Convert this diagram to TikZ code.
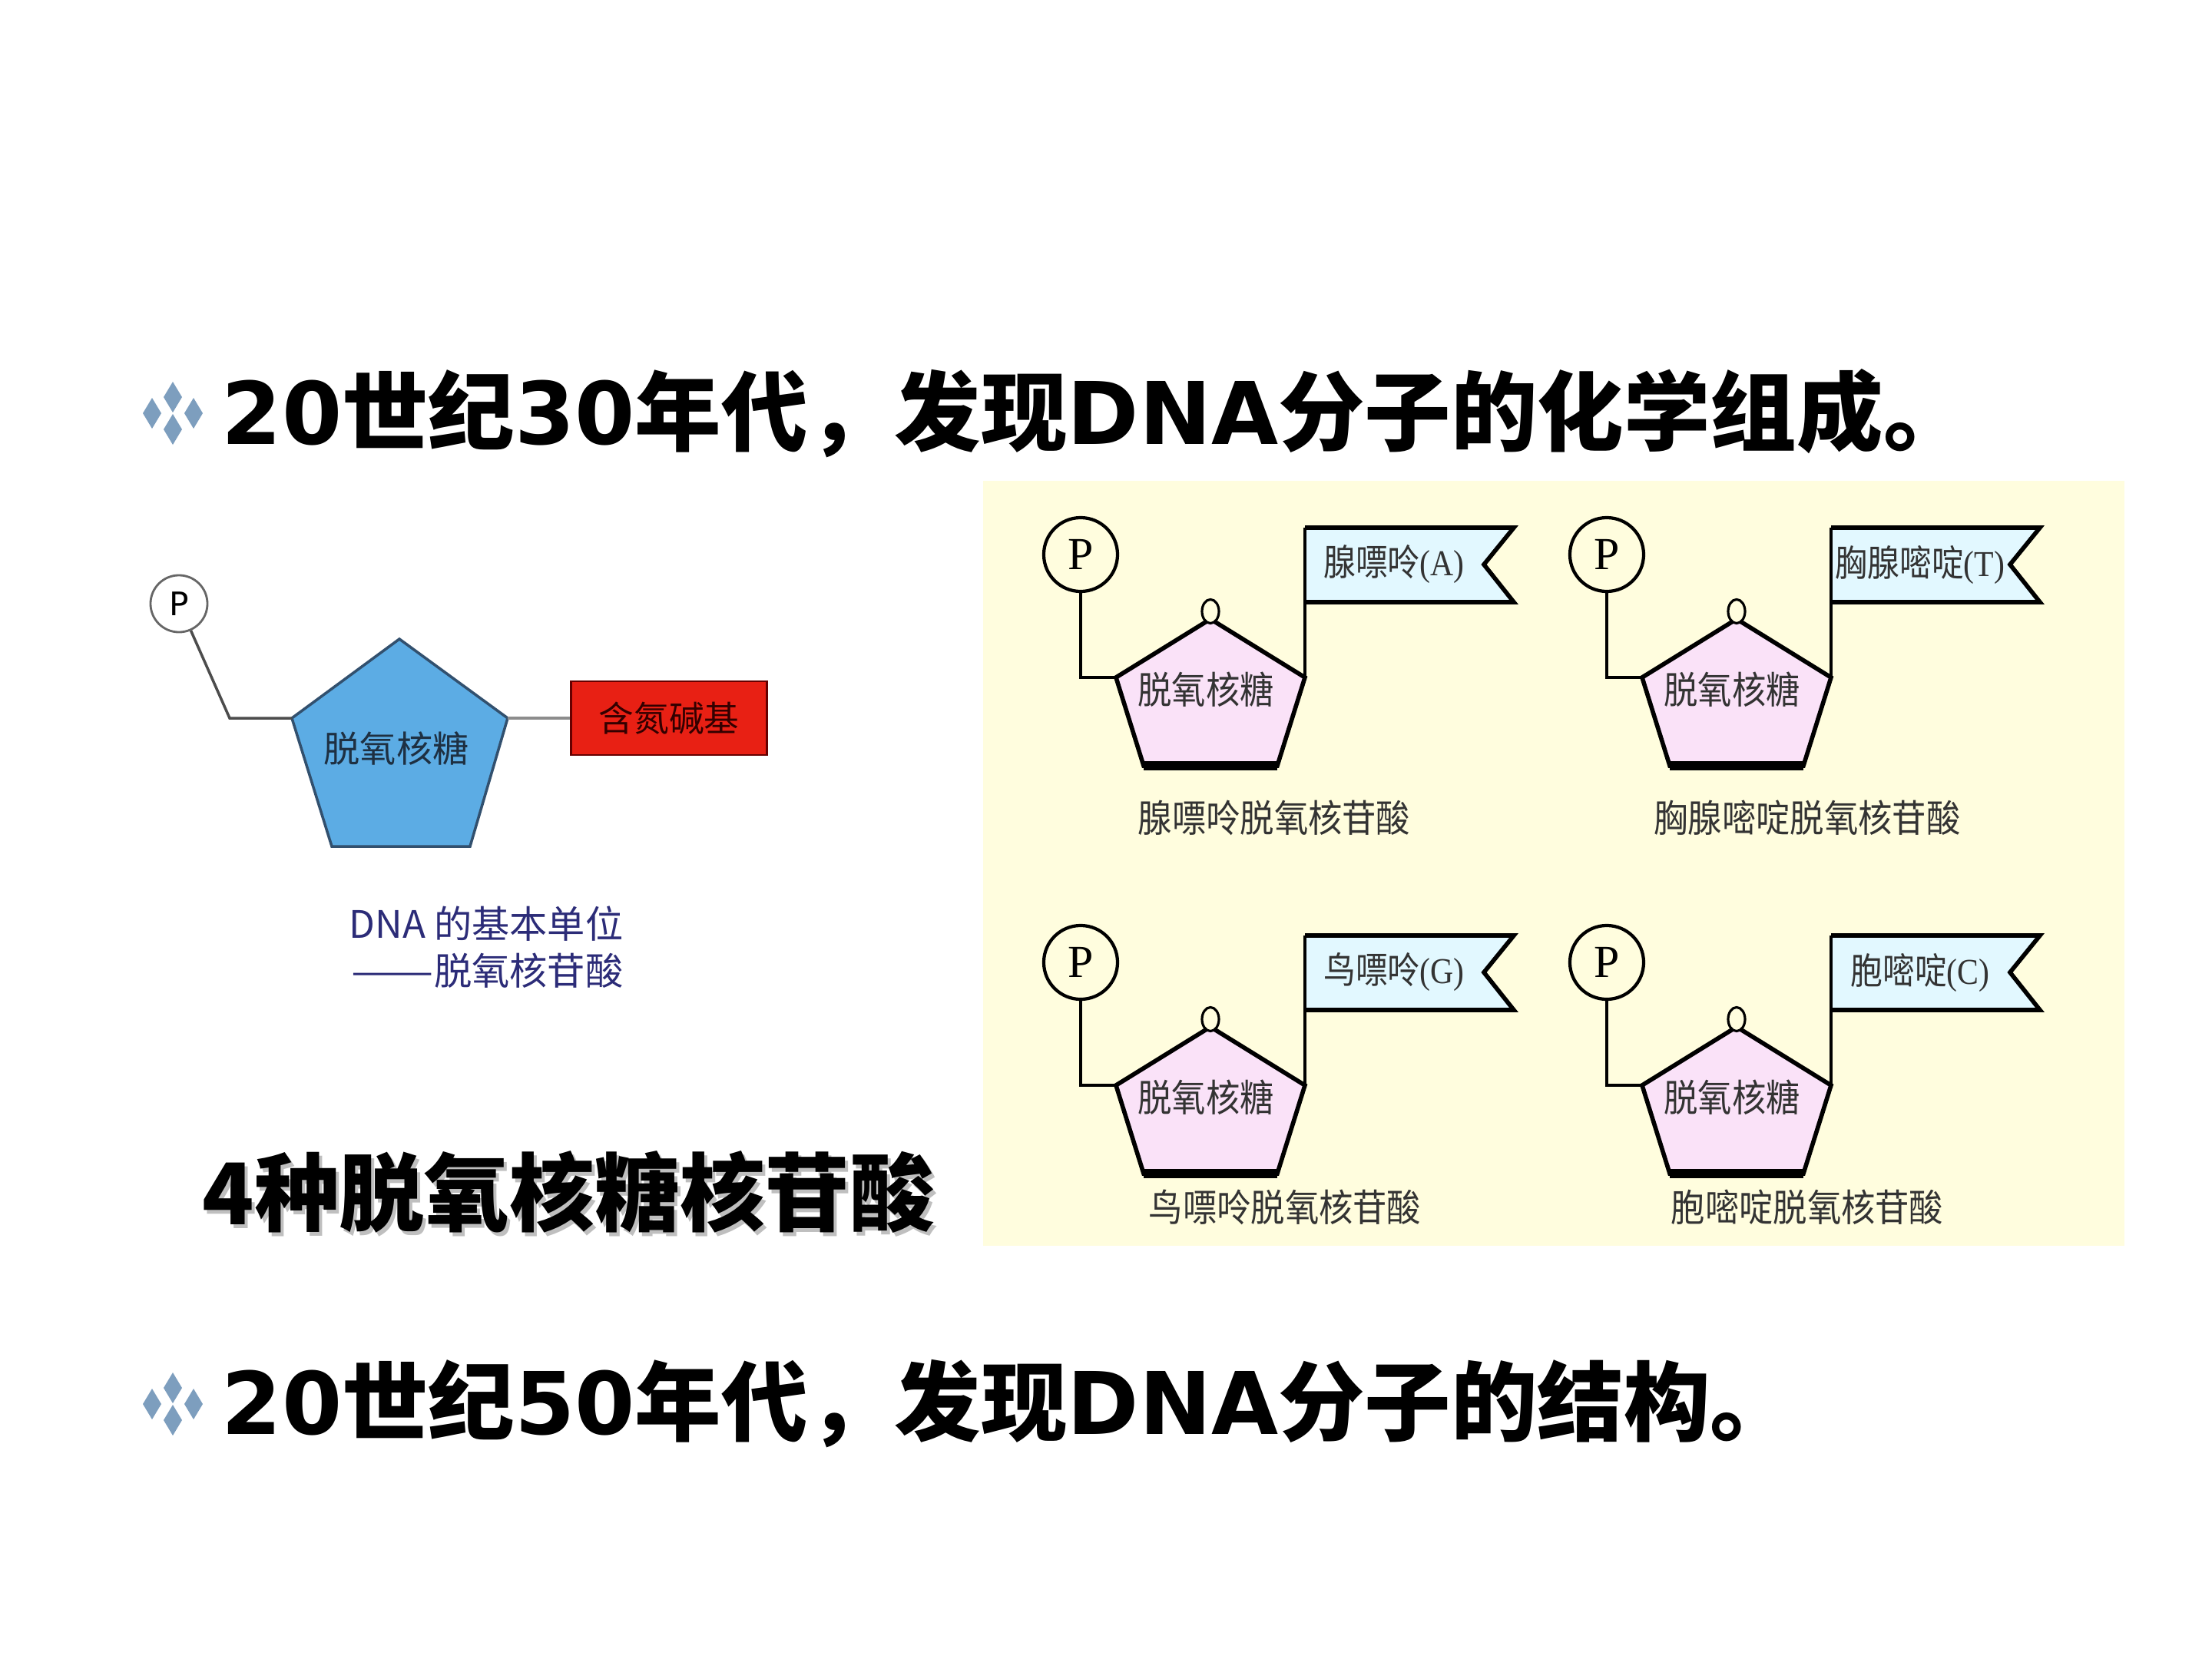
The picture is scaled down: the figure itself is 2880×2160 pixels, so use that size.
\documentclass[tikz,border=0pt]{standalone}
\usepackage{fontspec}
\usetikzlibrary{shapes.geometric}
\setmainfont{DejaVu Sans}
\newfontfamily\cjk{Noto Sans CJK SC}
\newfontfamily\lat{DejaVu Sans}
\newfontfamily\serif{Liberation Serif}

\definecolor{panelbg}{RGB}{255,253,222}
\definecolor{sugarpink}{RGB}{250,226,248}
\definecolor{flagcyan}{RGB}{226,248,255}
\definecolor{bulletblue}{RGB}{125,158,190}
\definecolor{riboblue}{RGB}{92,172,228}
\definecolor{riboline}{RGB}{50,80,110}
\definecolor{basered}{RGB}{232,32,20}
\definecolor{capnavy}{RGB}{44,44,120}

\tikzset{
  headline/.style={font=\fontsize{32}{36}\selectfont\bfseries, inner sep=0pt, anchor=west},
  diamonds/.pic={
    \foreach \dx/\dy in {0/-21,0/21,-27/0,27/0}
      \fill[bulletblue] (\dx,\dy-20) -- (\dx+12,\dy) -- (\dx,\dy+20) -- (\dx-12,\dy) -- cycle;
  },
  pleft/.style={circle, draw=black!60, line width=0.8pt, minimum size=0.74cm, inner sep=0pt,
    fill=white, font=\fontsize{12}{12}\selectfont\lat},
  ribo/.style={fill=riboblue, draw=riboline, line width=1pt, line join=miter},
  graylink/.style={draw=black!45, line width=1.3pt},
  basebox/.style={rectangle, fill=basered, draw=red!40!black, line width=0.8pt,
    minimum width=2.55cm, minimum height=0.96cm, inner sep=0pt,
    text=red!20!black, font=\fontsize{13}{13}\selectfont\cjk},
  caption/.style={anchor=east, inner sep=0pt, text=capnavy, font=\fontsize{14}{14}\selectfont\cjk},
  bigtxt/.style={anchor=west, inner sep=0pt, font=\fontsize{31.5}{36}\selectfont\cjk\bfseries},
  pcirc/.style={circle, draw, line width=1.2pt, minimum size=0.96cm, inner sep=0pt,
    font=\fontsize{17}{17}\selectfont\serif},
  sugar/.style={fill=sugarpink, draw, line width=1.6pt, line join=miter},
  pole/.style={draw, line width=1.2pt},
  flagline/.style={draw, line width=1.6pt, line join=miter},
  smalltxt/.style={inner sep=0pt, text=black!80}
}

\begin{document}
\begin{tikzpicture}[x=0.01cm, y=-0.01cm]
  \useasboundingbox (0,0) rectangle (2880,2160);
  \fill[white] (0,0) rectangle (2880,2160);

  % Titel oben
  \pic at (225,538) {diamonds};
  \node[headline] (t1) at (288,538)
    {\lat 20\cjk 世纪\lat 30\cjk 年代，发现\lat DNA\cjk 分子的化学组成。};

  % Grundbaustein links
  \node[pleft] (pl) at (233,786) {P};
  \coordinate (bend) at (299,935);
  \coordinate (sT) at (520,832);
  \coordinate (sL) at (380,935);
  \coordinate (sR) at (661,935);
  \coordinate (sBR) at (612,1102);
  \coordinate (sBL) at (432,1102);
  \draw[ribo] (sT) -- (sR) -- (sBR) -- (sBL) -- (sL) -- cycle;
  \node[inner sep=0pt, text=riboline!60!black, font=\fontsize{13.4}{14}\selectfont\cjk]
    (rtxt) at (516,975) {脱氧核糖};
  \draw[draw=black!70, line width=1pt] (pl) -- (bend) -- (sL);
  \node[basebox] (nb) at (871,935) {含氮碱基};
  \draw[graylink] (sR) -- (nb);
  \node[caption] (cap1) at (812,1203) {DNA 的基本单位};
  \node[caption] (cap2) at (812,1264) {\scalebox{1.3}[1]{——}脱氧核苷酸};

  % 4 Nukleotide, Schrift mit Schatten
  \node[bigtxt, text=black!25] (shadow) at (267,1557) {4种脱氧核糖核苷酸};
  \node[bigtxt] (four) at (263,1552) {4种脱氧核糖核苷酸};

  % Tafel rechts
  \fill[panelbg] (1280,626) rectangle (2766,1622);
  \foreach \px/\py/\base/\letter/\name/\lx/\ly [count=\i] in {
      1407/722/腺嘌呤/A/腺嘌呤脱氧核苷酸/252/343,
      2092/722/胸腺嘧啶/T/胸腺嘧啶脱氧核苷酸/261/343,
      1407/1253/鸟嘌呤/G/鸟嘌呤脱氧核苷酸/266/319,
      2092/1253/胞嘧啶/C/胞嘧啶脱氧核苷酸/261/319}
  {
    \begin{scope}[shift={(\px,\py)}]
      \node[pcirc] (P\i) at (0,0) {P};
      \coordinate (K\i) at (0,160);
      \coordinate (L\i) at (46,160);
      \coordinate (A\i) at (169,84);
      \coordinate (R\i) at (292,160);
      \coordinate (BR\i) at (256,275);
      \coordinate (BL\i) at (82,275);
      \coordinate (F\i) at (292,-35);
      % Zucker
      \draw[sugar] (L\i) -- (A\i) -- (R\i) -- (BR\i) -- (BL\i) -- cycle;
      \draw[line width=3.2pt] (BL\i) -- (BR\i);
      \node[ellipse, draw, line width=0.9pt, fill=panelbg, minimum width=0.22cm,
        minimum height=0.31cm, inner sep=0pt] (O\i) at (169,74) {};
      \node[smalltxt, font=\fontsize{14}{14}\selectfont\cjk] (s\i) at (163,176)
        {\scalebox{0.9}[1]{脱氧核糖}};
      % Phosphat
      \draw[pole] (P\i) -- (K\i) -- (L\i);
      % Base
      \fill[flagcyan] (F\i) -- (564,-35) -- (525,13) -- (564,62) -- (292,62) -- cycle;
      \draw[flagline] (F\i) -- (564,-35) -- (525,13) -- (564,62) -- (292,62);
      \draw[pole] (R\i) -- (F\i);
      \node[smalltxt, font=\fontsize{13.5}{13.5}\selectfont\cjk] (b\i) at (408,13)
        {\scalebox{0.88}[1]{\base\serif(\letter)}};
      \node[smalltxt, font=\fontsize{14}{14}\selectfont\cjk] (n\i) at (\lx,\ly)
        {\scalebox{0.9}[1]{\name}};
    \end{scope}
  }

  % Titel unten
  \pic at (225,1828) {diamonds};
  \node[headline] (t2) at (288,1828)
    {\lat 20\cjk 世纪\lat 50\cjk 年代，发现\lat DNA\cjk 分子的结构。};
\end{tikzpicture}
\end{document}
